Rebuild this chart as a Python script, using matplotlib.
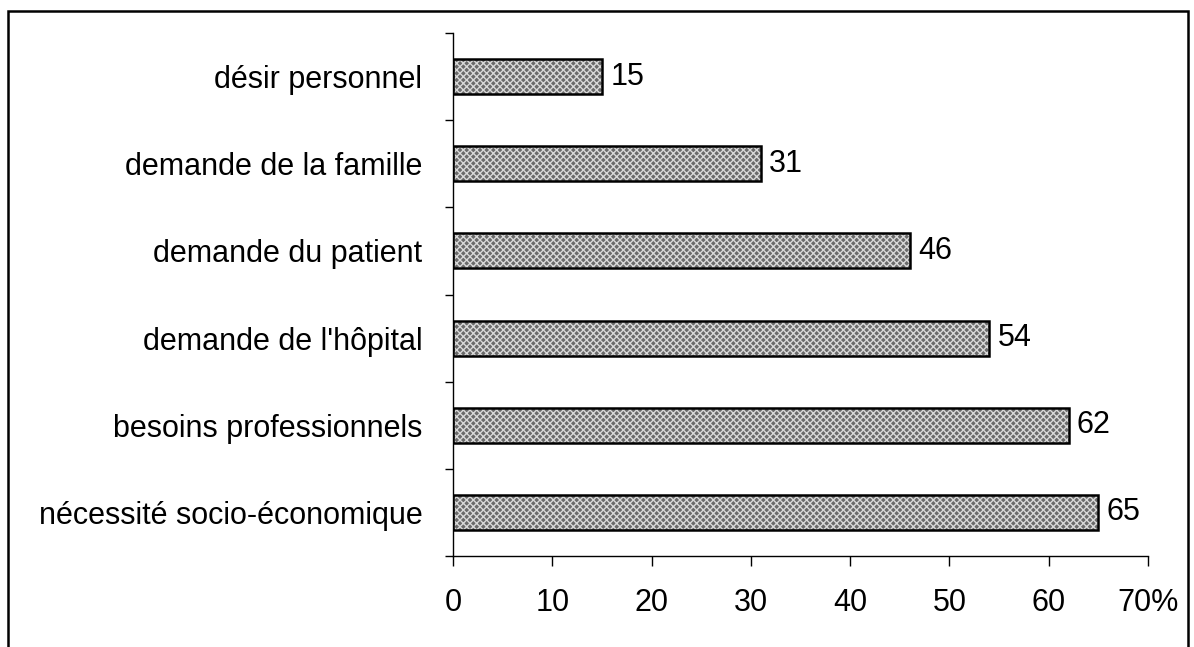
import numpy as np
import matplotlib.pyplot as plt
from matplotlib.patches import Rectangle

plt.rcParams["font.family"] = ["Liberation Sans", "DejaVu Sans"]

# bottom to top
categories = [
    "nécessité socio-économique",
    "besoins professionnels",
    "demande de l'hôpital",
    "demande du patient",
    "demande de la famille",
    "désir personnel",
]
values = [65, 62, 54, 46, 31, 15]
xticks = [0, 10, 20, 30, 40, 50, 60, 70]
xtick_labels = ["0", "10", "20", "30", "40", "50", "60", "70%"]

fig = plt.figure(figsize=(11.94, 6.47), dpi=100)
ax = fig.add_axes([0.3794, 0.1406, 0.9615 - 0.3794, 0.949 - 0.1406])

y = np.arange(len(categories))
# hatched grey fill, then black outline on top
ax.barh(y, values, height=0.4, color="#6a6a6a", edgecolor="#d8d8d8",
        hatch="xxxxx", linewidth=0, zorder=2)
ax.barh(y, values, height=0.4, fill=False, edgecolor="black",
        linewidth=1.8, zorder=3)

for yi, v in zip(y, values):
    ax.annotate(str(v), (v, yi), xytext=(6, 0), textcoords="offset points",
                va="center", ha="left", fontsize=22)

ax.set_xlim(0, 70)
ax.set_ylim(-0.5, len(categories) - 0.5)

ax.set_xticks(xticks)
ax.set_xticklabels(xtick_labels, fontsize=22)
ax.tick_params(axis="x", direction="out", length=7, width=1, pad=16)

ax.set_yticks(y)
ax.set_yticklabels(categories, fontsize=22)
ax.set_yticks(np.arange(len(categories) + 1) - 0.5, minor=True)
ax.tick_params(axis="y", which="major", length=0, pad=22)
ax.tick_params(axis="y", which="minor", direction="out", length=6, width=1)

ax.spines["top"].set_visible(False)
ax.spines["right"].set_visible(False)
ax.spines["left"].set_linewidth(1)
ax.spines["bottom"].set_linewidth(1)

# page frame around the chart
fig.patches.append(Rectangle((8 / 1194, -0.02), 1180 / 1194, (636 / 647) + 0.02,
                             transform=fig.transFigure, fill=False,
                             edgecolor="black", linewidth=1.8))

fig.savefig("out.png", dpi=100)
